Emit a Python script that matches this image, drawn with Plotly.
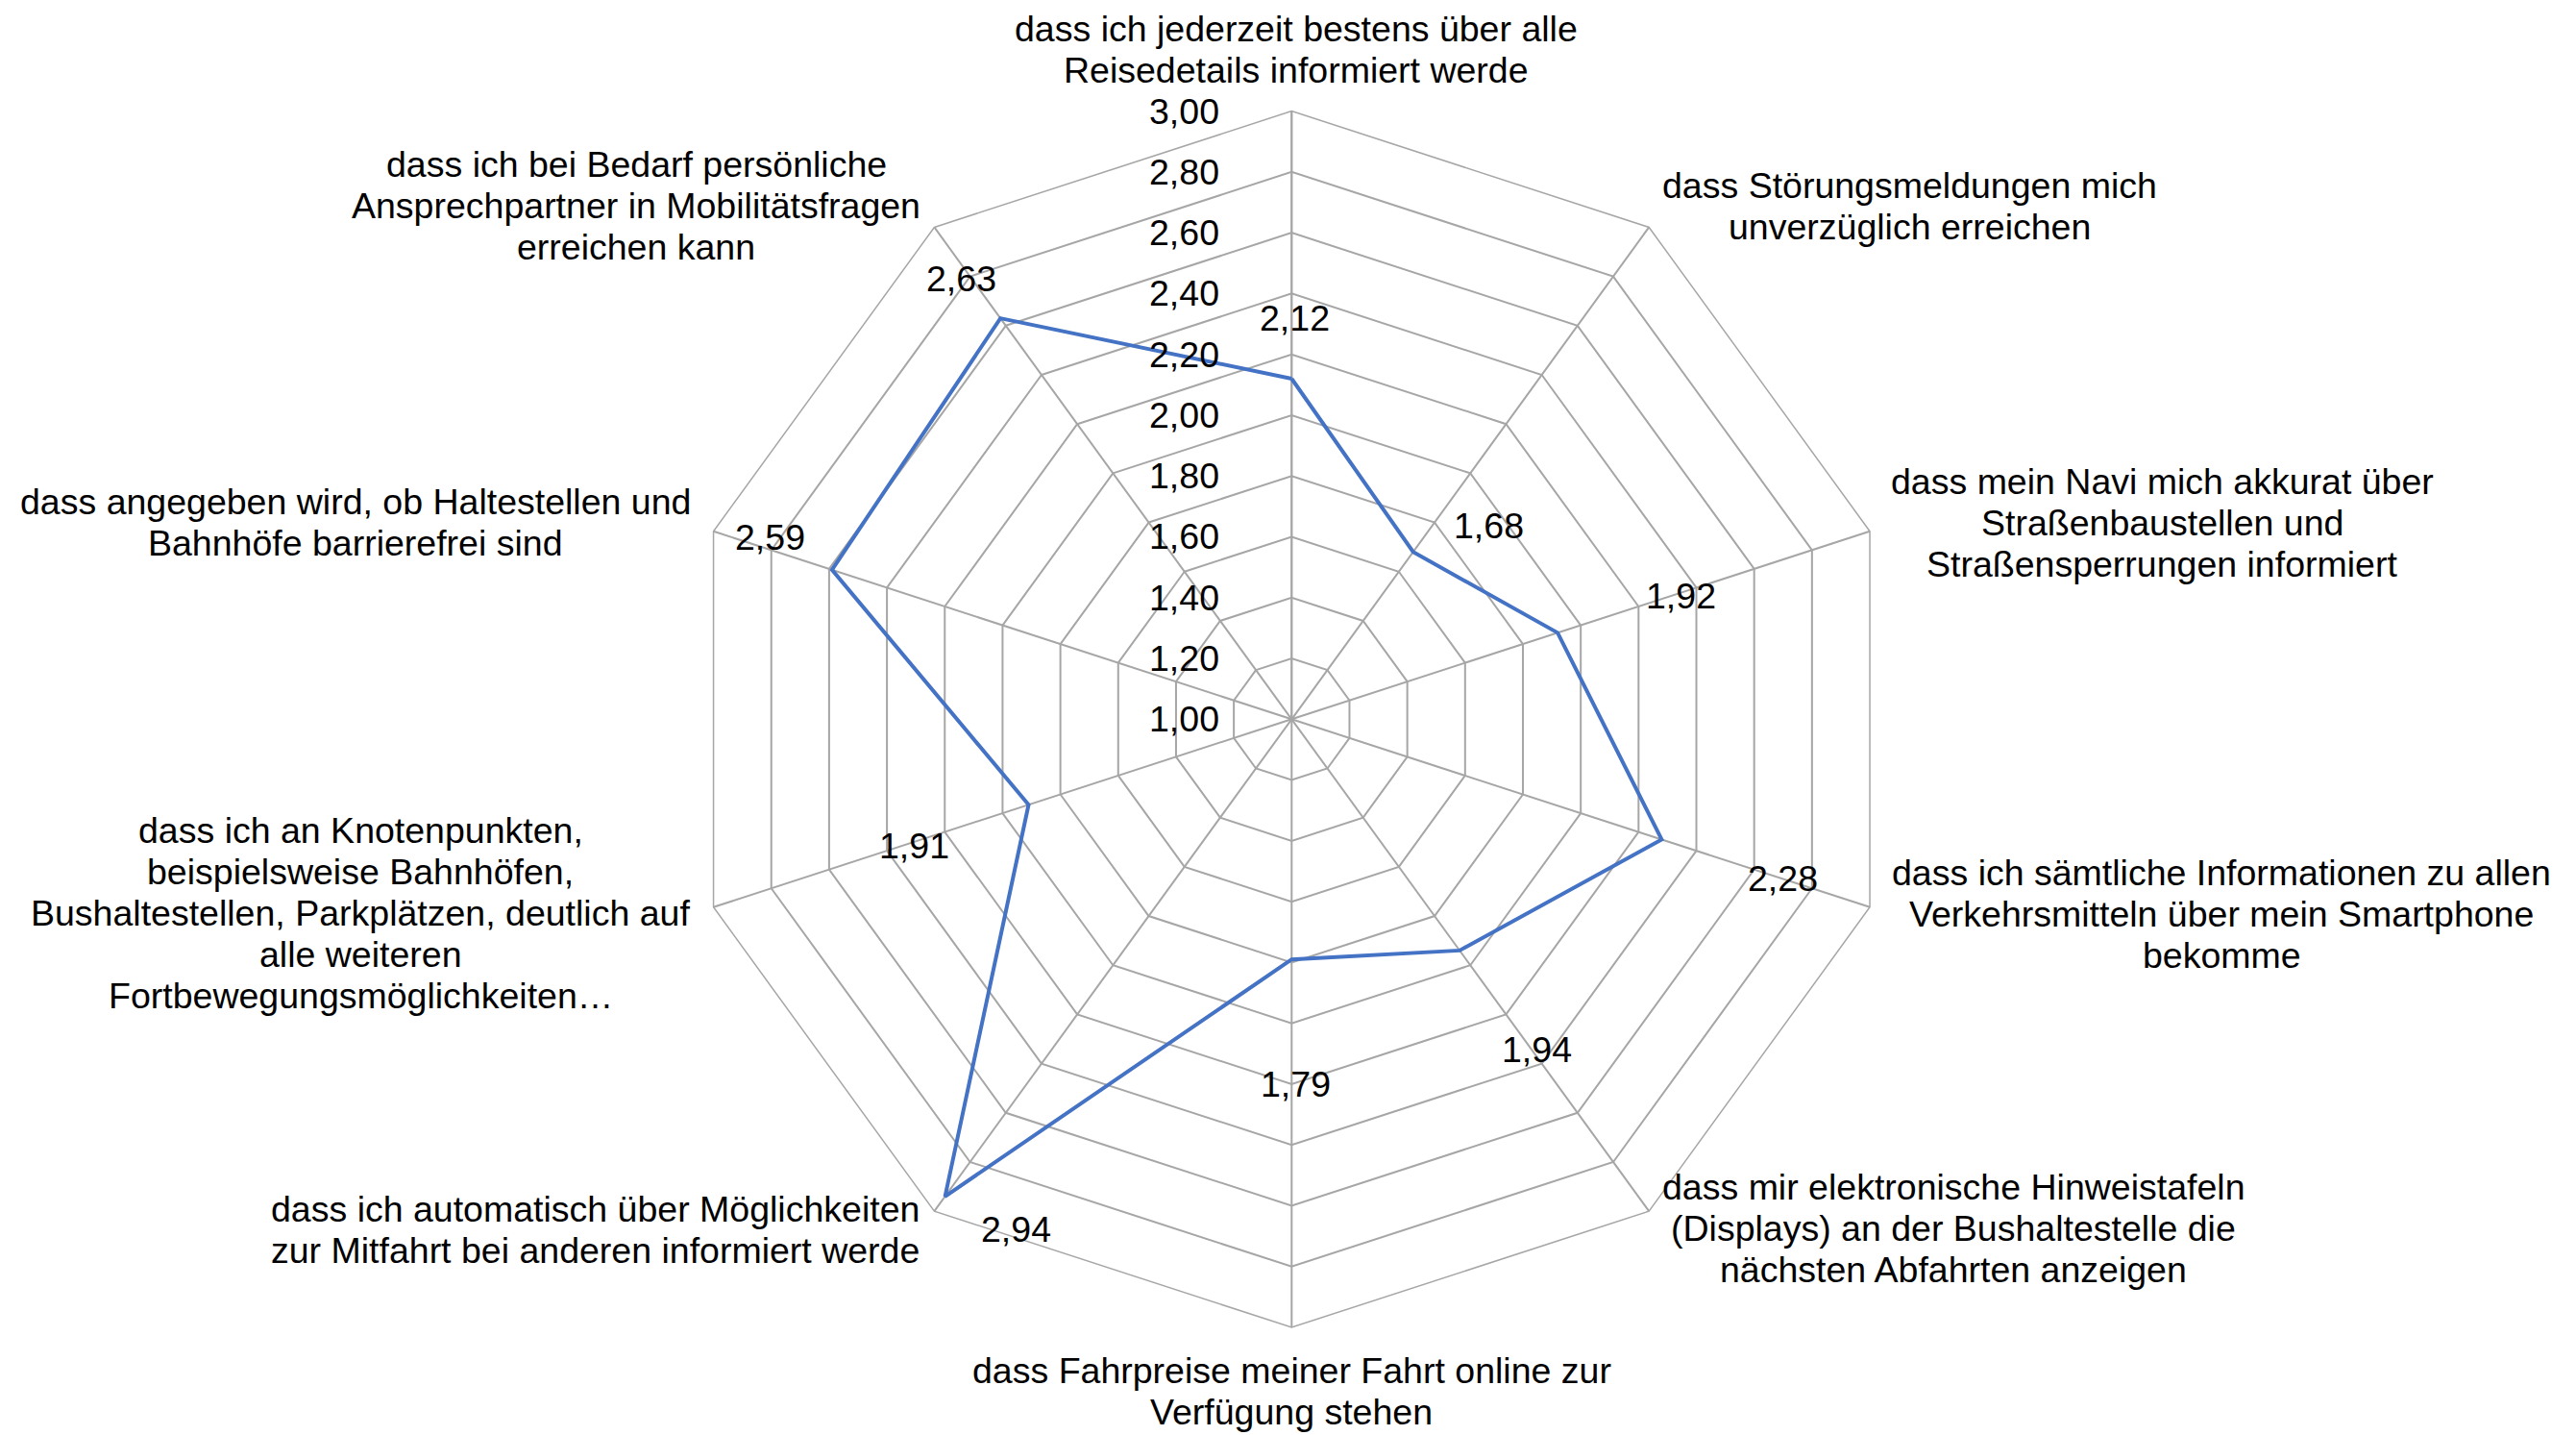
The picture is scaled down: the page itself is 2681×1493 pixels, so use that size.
import math
import plotly.graph_objects as go

categories = [
    "dass ich jederzeit bestens über alle<br>Reisedetails informiert werde",
    "dass Störungsmeldungen mich<br>unverzüglich erreichen",
    "dass mein Navi mich akkurat über<br>Straßenbaustellen und<br>Straßensperrungen informiert",
    "dass ich sämtliche Informationen zu allen<br>Verkehrsmitteln über mein Smartphone<br>bekomme",
    "dass mir elektronische Hinweistafeln<br>(Displays) an der Bushaltestelle die<br>nächsten Abfahrten anzeigen",
    "dass Fahrpreise meiner Fahrt online zur<br>Verfügung stehen",
    "dass ich automatisch über Möglichkeiten<br>zur Mitfahrt bei anderen informiert werde",
    "dass ich an Knotenpunkten,<br>beispielsweise Bahnhöfen,<br>Bushaltestellen, Parkplätzen, deutlich auf<br>alle weiteren<br>Fortbewegungsmöglichkeiten…",
    "dass angegeben wird, ob Haltestellen und<br>Bahnhöfe barrierefrei sind",
    "dass ich bei Bedarf persönliche<br>Ansprechpartner in Mobilitätsfragen<br>erreichen kann",
]
values = [2.12, 1.68, 1.92, 2.28, 1.94, 1.79, 2.94, 1.91, 2.59, 2.63]
r_min, r_max, r_step = 1.0, 3.0, 0.2

# ---- layout geometry (page pixels) ----
PAGE_W, PAGE_H = 2681, 1493
OFF = 8                      # default body margin of the html page
W, H = PAGE_W - OFF, PAGE_H - OFF
CX, CY, R = 1344.3, 748.3, 632.7
FONT = "Liberation Sans, Arial, sans-serif"
FS = 37.5
PITCH = 43.0          # line pitch of multi-line category labels
TICK_RIGHT = 1271     # right edge of radial tick labels

# category label block centres (x) and first-line centre (y), page pixels
cat_pos = [
    (1349, 30), (1987, 193), (2250, 501), (2312, 908), (2033, 1235),
    (1344, 1426), (619, 1258), (375, 864), (370, 522), (662, 171),
]
# data-label offsets in pixels (label centre relative to point)
label_dx = [3, 79, 128, 126, 80, 4, 74, -119, -64, -41]
label_dy = [-63, -27, -38, 41, 103, 130, 34, 43, -34, -41]


def px_x(x):
    return (x - OFF) / W


def px_y(y):
    return 1 - (y - OFF) / H


dom_x = [px_x(CX - R), px_x(CX + R)]
dom_y = [px_y(CY + R), px_y(CY - R)]

keys = [c.replace("<br>", " ") for c in categories]

fig = go.Figure()
fig.add_trace(go.Scatterpolar(
    r=values + [values[0]],
    theta=keys + [keys[0]],
    mode="lines",
    line=dict(color="#4472C4", width=4),
    hoverinfo="skip",
    showlegend=False,
))

txt_font = dict(family=FONT, size=FS, color="#000000")
n = len(categories)
annotations = []
for i, (cat, v) in enumerate(zip(categories, values)):
    th = math.radians(90 - 360 * i / n)
    c, s = math.cos(th), math.sin(th)
    # category label, one annotation per line
    bx, by = cat_pos[i]
    for j, line in enumerate(cat.split("<br>")):
        ly = by + j * PITCH
        annotations.append(dict(
            x=px_x(bx), y=px_y(ly), xref="paper", yref="paper",
            text=line, showarrow=False, xanchor="center", yanchor="middle",
            font=txt_font,
        ))
    # data label
    rn = (v - r_min) / (r_max - r_min)
    dx = CX + rn * R * c + label_dx[i]
    dy = CY - rn * R * s + label_dy[i]
    annotations.append(dict(
        x=px_x(dx), y=px_y(dy), xref="paper", yref="paper",
        text=f"{v:.2f}".replace(".", ","), showarrow=False,
        xanchor="center", yanchor="middle", font=txt_font,
    ))

tickvals = [round(r_min + k * r_step, 2) for k in range(int(round((r_max - r_min) / r_step)) + 1)]
for t in tickvals:
    rn = (t - r_min) / (r_max - r_min)
    ty = CY - rn * R
    annotations.append(dict(
        x=px_x(TICK_RIGHT), y=px_y(ty), xref="paper", yref="paper",
        text=f"{t:.2f}".replace(".", ","), showarrow=False,
        xanchor="right", yanchor="middle", font=txt_font,
    ))

GRID = "#A6A6A6"
fig.update_layout(
    width=W, height=H,
    margin=dict(l=0, r=0, t=0, b=0),
    paper_bgcolor="white",
    plot_bgcolor="white",
    font=dict(family=FONT, size=FS, color="#000000"),
    polar=dict(
        domain=dict(x=dom_x, y=dom_y),
        bgcolor="white",
        gridshape="linear",
        radialaxis=dict(
            range=[r_min, r_max],
            tickvals=tickvals,
            showticklabels=False,
            angle=90,
            showline=True,
            linecolor=GRID,
            linewidth=1.8,
            gridcolor=GRID,
            gridwidth=1.5,
            ticks="",
            layer="below traces",
        ),
        angularaxis=dict(
            direction="clockwise",
            rotation=90,
            categoryorder="array",
            categoryarray=keys,
            showticklabels=False,
            ticks="",
            showline=True,
            linecolor=GRID,
            linewidth=1.5,
            gridcolor=GRID,
            gridwidth=1.5,
        ),
    ),
    annotations=annotations,
)

fig.write_html("out.html")
